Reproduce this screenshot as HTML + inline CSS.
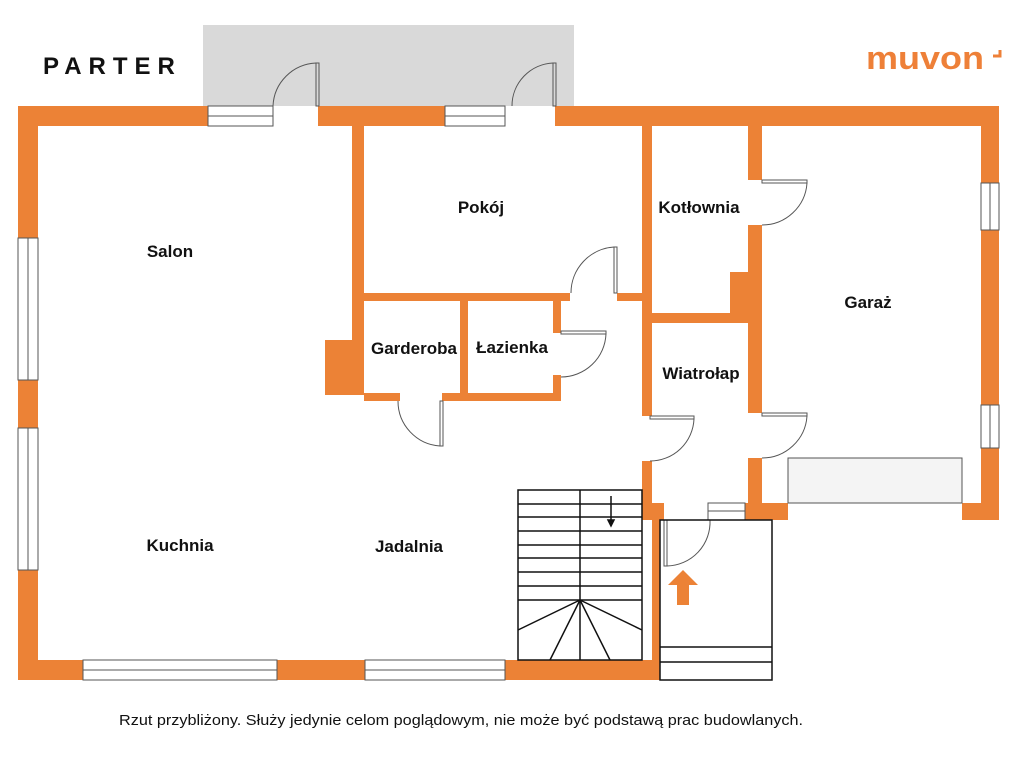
<!DOCTYPE html>
<html><head><meta charset="utf-8"><style>
body{margin:0;background:#fff;width:1024px;height:768px;overflow:hidden}
svg{display:block}
text{font-family:"Liberation Sans",sans-serif}
.l{font-weight:bold;font-size:17px;fill:#111;text-anchor:middle}
</style></head><body>
<svg width="1024" height="768" viewBox="0 0 1024 768" xmlns="http://www.w3.org/2000/svg">
<rect x="203" y="25" width="371" height="81" fill="#d9d9d9"/>
<text x="43" y="74" font-size="24" font-weight="bold" letter-spacing="7" fill="#111">PARTER</text>
<text x="866" y="69" font-size="32" font-weight="bold" fill="#ee8038" textLength="118" lengthAdjust="spacingAndGlyphs">muvon</text>
<path d="M993 56 h7 v-6" stroke="#ee8038" stroke-width="3" fill="none"/>
<g fill="#ec8236">
<rect x="18" y="106" width="190" height="20"/>
<rect x="318" y="106" width="127" height="20"/>
<rect x="555" y="106" width="444" height="20"/>
<rect x="18" y="106" width="20" height="132"/>
<rect x="18" y="380" width="20" height="48"/>
<rect x="18" y="570" width="20" height="110"/>
<rect x="18" y="660" width="65" height="20"/>
<rect x="277" y="660" width="88" height="20"/>
<rect x="505" y="660" width="155" height="20"/>
<rect x="981" y="106" width="18" height="77"/>
<rect x="981" y="230" width="18" height="175"/>
<rect x="981" y="448" width="18" height="72"/>
<rect x="962" y="503" width="37" height="17"/>
<rect x="352" y="126" width="12" height="214"/>
<rect x="325" y="340" width="39" height="55"/>
<rect x="352" y="293" width="218" height="8"/>
<rect x="617" y="293" width="35" height="8"/>
<rect x="642" y="126" width="10" height="290"/>
<rect x="642" y="461" width="10" height="44"/>
<rect x="642" y="503" width="22" height="17"/>
<rect x="652" y="503" width="8" height="177"/>
<rect x="748" y="126" width="14" height="54"/>
<rect x="748" y="225" width="14" height="90"/>
<rect x="730" y="272" width="32" height="43"/>
<rect x="652" y="313" width="110" height="10"/>
<rect x="748" y="323" width="14" height="90"/>
<rect x="748" y="458" width="14" height="50"/>
<rect x="745" y="503" width="43" height="17"/>
<rect x="364" y="393" width="36" height="8"/>
<rect x="442" y="393" width="119" height="8"/>
<rect x="460" y="301" width="8" height="94"/>
<rect x="553" y="301" width="8" height="32"/>
<rect x="553" y="375" width="8" height="26"/>
<path d="M683 570 L698 585 H689 V605 H677 V585 H668 Z"/>
</g>
<g fill="none" stroke="#555" stroke-width="1">
<rect x="208" y="106" width="65" height="20"/><line x1="208" y1="116" x2="273" y2="116"/>
<rect x="445" y="106" width="60" height="20"/><line x1="445" y1="116" x2="505" y2="116"/>
<rect x="18" y="238" width="20" height="142"/><line x1="28" y1="238" x2="28" y2="380"/>
<rect x="18" y="428" width="20" height="142"/><line x1="28" y1="428" x2="28" y2="570"/>
<rect x="83" y="660" width="194" height="20"/><line x1="83" y1="670" x2="277" y2="670"/>
<rect x="365" y="660" width="140" height="20"/><line x1="365" y1="670" x2="505" y2="670"/>
<rect x="981" y="183" width="18" height="47"/><line x1="990" y1="183" x2="990" y2="230"/>
<rect x="981" y="405" width="18" height="43"/><line x1="990" y1="405" x2="990" y2="448"/>
<rect x="708" y="503" width="37" height="17"/><line x1="708" y1="511" x2="745" y2="511"/>
<rect x="788" y="458" width="174" height="45" fill="#f4f4f4"/>
<rect x="316" y="63" width="3" height="43"/><path d="M273 106 A45 45 0 0 1 316 63"/>
<rect x="553" y="63" width="3" height="43"/><path d="M512 106 A43 43 0 0 1 553 63"/>
<rect x="614" y="247" width="3" height="46"/><path d="M571 293 A46 46 0 0 1 614 247"/>
<rect x="561" y="331" width="45" height="3"/><path d="M606 334 A45 45 0 0 1 561 377"/>
<rect x="440" y="401" width="3" height="45"/><path d="M440 446 A45 45 0 0 1 398 401"/>
<rect x="650" y="416" width="44" height="3"/><path d="M694 419 A44 44 0 0 1 650 461"/>
<rect x="762" y="180" width="45" height="3"/><path d="M807 183 A45 45 0 0 1 762 225"/>
<rect x="762" y="413" width="45" height="3"/><path d="M807 416 A45 45 0 0 1 762 458"/>
<rect x="664" y="520" width="3" height="46"/><path d="M667 566 A44 44 0 0 0 710 520"/>
<g stroke="#111" stroke-width="1.5">
<rect x="518" y="490" width="124" height="170"/>
<line x1="580" y1="490" x2="580" y2="660"/>
<path d="M518 504H642M518 517H642M518 531H642M518 545H642M518 558H642M518 572H642M518 586H642M518 600H642"/>
<path d="M580 600L518 630M580 600L550 660M580 600L610 660M580 600L642 630"/>
<line x1="611" y1="496" x2="611" y2="525"/>
<path d="M608 520 L611 526 L614 520Z" fill="#111"/>
<rect x="660" y="520" width="112" height="160"/>
<line x1="660" y1="647" x2="772" y2="647"/><line x1="660" y1="662" x2="772" y2="662"/>
</g>
</g>
<text class="l" x="170" y="257">Salon</text>
<text class="l" x="481" y="213">Pokój</text>
<text class="l" x="699" y="213">Kotłownia</text>
<text class="l" x="868" y="308">Garaż</text>
<text class="l" x="414" y="354">Garderoba</text>
<text class="l" x="512" y="353">Łazienka</text>
<text class="l" x="701" y="379">Wiatrołap</text>
<text class="l" x="180" y="551">Kuchnia</text>
<text class="l" x="409" y="552">Jadalnia</text>
<text x="119" y="725" font-size="15" fill="#111" textLength="684" lengthAdjust="spacingAndGlyphs">Rzut przybliżony. Służy jedynie celom poglądowym, nie może być podstawą prac budowlanych.</text>
</svg>
</body></html>
